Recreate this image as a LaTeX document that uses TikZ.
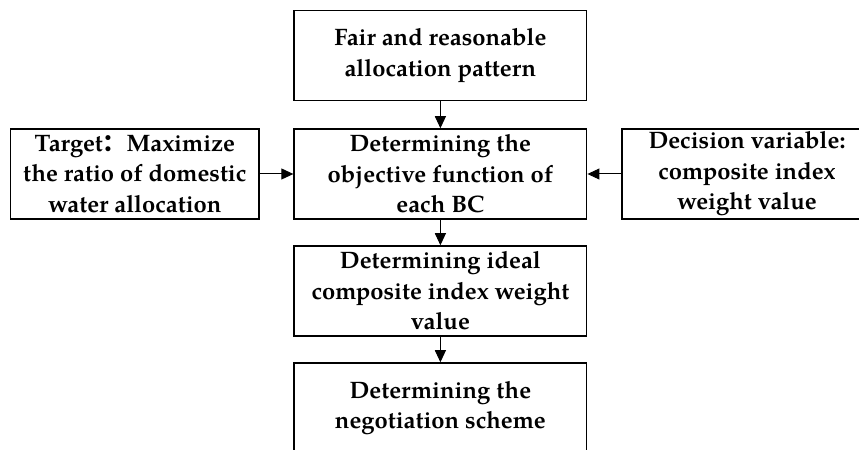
\documentclass[tikz,border=0pt]{standalone}
\usepackage{fontspec}
\setmainfont{texgyrepagella}[Extension=.otf,UprightFont=*-regular,BoldFont=*-bold,ItalicFont=*-italic,BoldItalicFont=*-bolditalic]
\newfontfamily\cjk{Noto Sans CJK SC}
\usetikzlibrary{arrows.meta,positioning}

\begin{document}
\begin{tikzpicture}[x=1pt, y=1pt, >={Triangle[length=6pt,width=5.5pt]},
  box/.style={draw, line width=0.75pt, minimum height=45pt, align=center, inner sep=0pt,
    font=\fontsize{11.9}{15.3}\selectfont\bfseries}]

\useasboundingbox (0,0) rectangle (429.5,225);

% centre column
\node[box, minimum width=146.3pt] (pattern) at (220.2,197.2) {Fair and reasonable\\allocation pattern};
\node[box, minimum width=146.3pt] (objective) at (220.2,138) {Determining the\\objective function of\\each BC};
\node[box, minimum width=146.3pt] (ideal) at (220.2,79.5) {Determining ideal\\composite index weight\\value};
\node[box, minimum width=146.3pt] (scheme) at (220.2,21) {Determining the\\negotiation scheme};

% side boxes
\node[box, minimum width=124.2pt] (target) at (67.4,138) {Target{\cjk ：}Maximize\\the ratio of domestic\\water allocation};
\node[box, minimum width=125pt] (decision) at (373.5,138) {Decision variable:\\composite index\\weight value};

\draw[->, line width=0.5pt] (pattern) -- (objective);
\draw[->, line width=0.5pt] (target) -- (objective);
\draw[->, line width=0.5pt] (decision) -- (objective);
\draw[->, line width=0.5pt] (objective) -- (ideal);
\draw[->, line width=0.5pt] (ideal) -- (scheme);

\end{tikzpicture}
\end{document}
